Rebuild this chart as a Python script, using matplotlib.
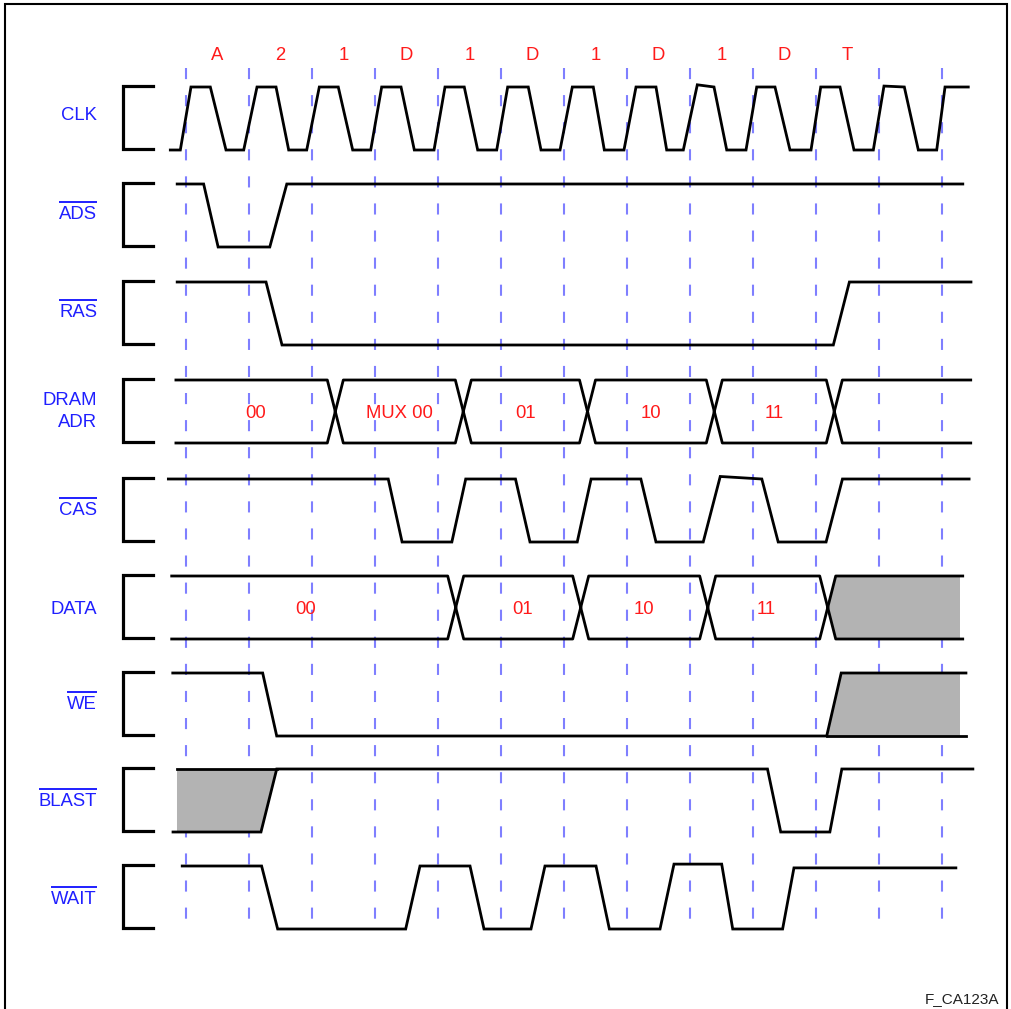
import matplotlib
matplotlib.use('Agg')
import matplotlib.pyplot as plt
from matplotlib.patches import Polygon

plt.rcParams['font.family'] = ['Liberation Sans', 'DejaVu Sans']
plt.rcParams['lines.scale_dashes'] = False

# ---------------- data (time in clock periods, 0 = first rising edge) -------------
cycle_labels = ['A', '2', '1', 'D', '1', 'D', '1', 'D', '1', 'D', 'T']
grid_edges = list(range(13))

signal_names = ['CLK', 'ADS', 'RAS', 'DRAM\nADR', 'CAS', 'DATA', 'WE', 'BLAST', 'WAIT']
active_low = [False, True, True, False, True, False, True, True, True]

clk_t = [-0.249, -0.090, 0.079, 0.386, 0.635, 0.916, 1.127, 1.429, 1.630, 1.916,
         2.116, 2.417, 2.646, 2.932, 3.106, 3.413, 3.624, 3.937, 4.111, 4.417,
         4.630, 4.932, 5.106, 5.433, 5.635, 5.937, 6.132, 6.465, 6.640, 6.952,
         7.143, 7.460, 7.630, 7.894, 8.116, 8.381, 8.583, 8.889, 9.059, 9.349,
         9.587, 9.921, 10.075, 10.381, 10.603, 10.910, 11.079, 11.402, 11.624,
         11.916, 12.048, 12.417]
clk_v = [0, 0, 1, 1, 0, 0, 1, 1, 0, 0,
         1, 1, 0, 0, 1, 1, 0, 0, 1, 1,
         0, 0, 1, 1, 0, 0, 1, 1, 0, 0,
         1, 1, 0, 0, 1.035, 1, 0, 0, 1, 1,
         0, 0, 1, 1, 0, 0, 1.015, 1, 0,
         0, 1, 1]

ads_t = [-0.14, 0.28, 0.51, 1.33, 1.60, 12.33]
ads_v = [1, 1, 0, 0, 1, 1]

ras_t = [-0.14, 1.27, 1.524, 10.275, 10.53, 12.46]
ras_v = [1, 1, 0, 0, 1, 1]

adr_start, adr_end = -0.16, 12.456
adr_cross = [2.370, 4.402, 6.373, 8.386, 10.291]
adr_labels = ['00', 'MUX 00', '01', '10', '11', '']

cas_t = [-0.28, 3.21, 3.43, 4.22, 4.44, 5.23, 5.46, 6.21, 6.43, 7.22, 7.46, 8.21,
         8.48, 9.14, 9.40, 10.16, 10.42, 12.43]
cas_v = [1, 1, 0, 0, 1, 1, 0, 0, 1, 1, 0, 0, 1.04, 1, 0, 0, 1, 1]

data_start, data_end = -0.227, 12.329
data_cross = [4.281, 6.265, 8.281, 10.186]
data_labels = ['00', '01', '10', '11']
data_label_t = [1.905, 5.344, 7.270, 9.217]

we_t = [-0.21, 1.217, 1.44, 10.17, 10.40, 12.38]
we_v = [1, 1, 0, 0, 1, 1]

blast_t = [-0.206, 1.19, 1.44, 9.23, 9.44, 10.22, 10.41, 12.49]
blast_v = [0, 0, 1, 1, 0, 0, 1, 1]
blast_unknown_start = -0.143

wait_t = [-0.06, 1.2, 1.455, 3.487, 3.714, 4.508, 4.73, 5.476, 5.698, 6.508, 6.72,
          7.524, 7.746, 8.503, 8.678, 9.47, 9.65, 12.22]
wait_v = [1, 1, 0, 0, 1, 1, 0, 0, 1, 1, 0, 0, 1.03, 1.03, 0, 0, 0.97, 0.97]

footer = 'F_CA123A'

# ---------------- layout -------------
W, H = 1011, 1009
X0, DX = 186.0, 63.0          # pixel of edge 0, pixels per clock
row_top = [87, 184, 282, 380, 479, 576, 673, 769, 866]
row_h = 63
label_cy = [113, 212, 310, 409, 508, 607, 702, 799, 897]
label_x = (97 - X0) / DX
br_x0, br_x1 = (123 - X0) / DX, (153 - X0) / DX
fill_end = (960 - X0) / DX
hw = 8 / DX

BLUE = '#1f1fff'
RED = '#ff1a1a'
GRAY = '#b3b3b3'
LW = 2.0
FS = 13.3

fig = plt.figure(figsize=(W / 100, H / 100), dpi=100)
ax = fig.add_axes([0, 0, 1, 1])
ax.set_xlim(-X0 / DX, (W - X0) / DX)
ax.set_ylim(H, 0)
ax.axis('off')

# frame
fx0, fx1 = (5 - X0) / DX, (1007 - X0) / DX
ax.plot([fx0, fx0, fx1, fx1], [1015, 4, 4, 1015], color='black', lw=1.5,
        solid_joinstyle='miter')

# dashed clock edge lines
ax.vlines(grid_edges, 68, 932, colors='#7f7fff', lw=1.5,
          linestyles=[(0, (8.0, 11.5))], zorder=1)

# cycle labels
for i, lab in enumerate(cycle_labels):
    ax.text(i + 0.5, 53 + 6.5, lab, color=RED, fontsize=FS, ha='center',
            va='baseline')


def yv(r, v):
    return row_top[r] + (1 - v) * row_h


def wave(r, ts, vs):
    ax.plot(ts, [yv(r, v) for v in vs], color='black', lw=LW, zorder=3,
            solid_joinstyle='miter')


def bus(r, start, end, cross, fill_last=False):
    top, bot, mid = yv(r, 1), yv(r, 0), yv(r, 0.5)
    b = [start] + list(cross) + [end]
    n = len(b) - 1
    for i in range(n):
        a, c = b[i], b[i + 1]
        xs_t, ys_t, ys_b = [], [], []
        if i == 0:
            xs_t += [a]; ys_t += [top]; ys_b += [bot]
        else:
            xs_t += [a, a + hw]; ys_t += [mid, top]; ys_b += [mid, bot]
        if i == n - 1:
            xs_t += [c]; ys_t += [top]; ys_b += [bot]
        else:
            xs_t += [c - hw, c]; ys_t += [top, mid]; ys_b += [bot, mid]
        ax.plot(xs_t, ys_t, color='black', lw=LW, zorder=3)
        ax.plot(xs_t, ys_b, color='black', lw=LW, zorder=3)
    if fill_last:
        c = cross[-1]
        ax.add_patch(Polygon([(c, mid), (c + hw, top), (fill_end, top),
                              (fill_end, bot), (c + hw, bot)], closed=True,
                             facecolor=GRAY, edgecolor='none', zorder=2))
    return b


# CLK, ADS, RAS
wave(0, clk_t, clk_v)
wave(1, ads_t, ads_v)
wave(2, ras_t, ras_v)

# DRAM ADR
bnd = bus(3, adr_start, adr_end, adr_cross)
for i, lab in enumerate(adr_labels):
    if lab:
        ax.text((bnd[i] + bnd[i + 1]) / 2, yv(3, 0.5) + 6.5, lab, color=RED,
                fontsize=FS, ha='center', va='baseline', zorder=4)

# CAS
wave(4, cas_t, cas_v)

# DATA
bus(5, data_start, data_end, data_cross, fill_last=True)
for t, lab in zip(data_label_t, data_labels):
    ax.text(t, yv(5, 0.5) + 6.5, lab, color=RED, fontsize=FS, ha='center',
            va='baseline', zorder=4)

# WE (with undefined region after the burst)
wave(6, we_t, we_v)
ax.plot([we_t[3], we_t[-1]], [yv(6, 0), yv(6, 0)], color='black', lw=LW, zorder=3)
ax.add_patch(Polygon([(we_t[3], yv(6, 0)), (we_t[4], yv(6, 1)), (fill_end, yv(6, 1)),
                      (fill_end, yv(6, 0))], closed=True, facecolor=GRAY,
                     edgecolor='none', zorder=2))

# BLAST (undefined before first edge)
wave(7, blast_t, blast_v)
ax.plot([blast_unknown_start, blast_t[2]], [yv(7, 1), yv(7, 1)], color='black',
        lw=LW, zorder=3)
ax.add_patch(Polygon([(blast_unknown_start, yv(7, 1)), (blast_t[2], yv(7, 1)),
                      (blast_t[1], yv(7, 0)), (blast_unknown_start, yv(7, 0))],
                     closed=True, facecolor=GRAY, edgecolor='none', zorder=2))

# WAIT
wave(8, wait_t, wait_v)

# brackets and labels
fig.canvas.draw()
renderer = fig.canvas.get_renderer()
inv = ax.transData.inverted()
for r, name in enumerate(signal_names):
    t0, t1 = yv(r, 1) - 1, yv(r, 0) - 1
    ax.plot([br_x1, br_x0, br_x0, br_x1], [t0, t0, t1, t1], color='black',
            lw=2.3, solid_joinstyle='miter', zorder=3)
    lines = name.split('\n')
    nl = len(lines)
    for k, ln in enumerate(lines):
        cy = label_cy[r] + (k - (nl - 1) / 2) * 22
        txt = ax.text(label_x, cy + 6.7, ln, color=BLUE, fontsize=FS,
                      ha='right', va='baseline')
        if active_low[r]:
            bb = txt.get_window_extent(renderer)
            (xa, _), (xb, _) = inv.transform([(bb.x0, 0), (bb.x1, 0)])
            ax.plot([xa, xb], [cy - 10, cy - 10], color=BLUE, lw=1.4,
                    solid_capstyle='butt')

ax.text((999 - X0) / DX, 1003, footer, color='#222222', fontsize=11,
        ha='right', va='baseline')

fig.savefig('out.png', dpi=100)
